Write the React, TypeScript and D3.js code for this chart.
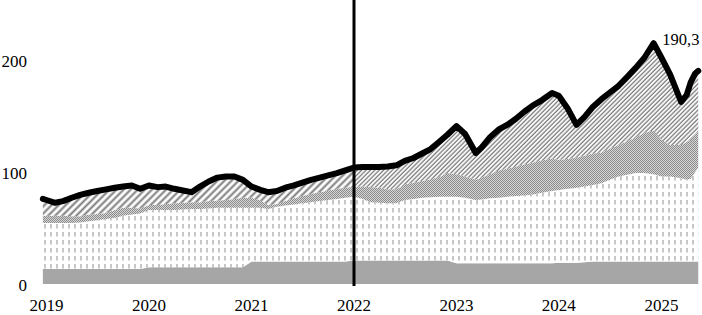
import React from "react";
import * as d3 from "d3";

const dates = [
  "2018-12-19","2019-01-01","2019-02-01","2019-03-01","2019-04-01","2019-05-01","2019-06-01","2019-07-01","2019-08-01","2019-09-01","2019-10-01","2019-11-01","2019-12-01",
  "2020-01-01","2020-02-01","2020-03-01","2020-04-01","2020-05-01","2020-06-01","2020-07-01","2020-08-01","2020-09-01","2020-10-01","2020-11-01","2020-12-01",
  "2021-01-01","2021-02-01","2021-03-01","2021-04-01","2021-05-01","2021-06-01","2021-07-01","2021-08-01","2021-09-01","2021-10-01","2021-11-01","2021-12-01",
  "2022-01-01","2022-02-01","2022-03-01","2022-04-01","2022-05-01","2022-06-01","2022-07-01","2022-08-01","2022-09-01","2022-10-01","2022-11-01","2022-12-01",
  "2023-01-01","2023-02-01","2023-03-11","2023-04-01","2023-05-01","2023-06-01","2023-07-01","2023-08-01","2023-09-01","2023-10-01","2023-11-01","2023-12-08",
  "2024-01-01","2024-02-01","2024-03-04","2024-04-01","2024-05-01","2024-06-01","2024-07-01","2024-08-01","2024-09-01","2024-10-01","2024-11-01","2024-12-04",
  "2025-01-01","2025-02-01","2025-03-12","2025-04-01","2025-04-15","2025-05-01","2025-05-12",
];

// bottom solid grey layer
const baseSeries = [
  13.5,13.5,13.5,13.5,13.5,13.5,13.5,13.5,13.5,13.5,13.5,13.5,13.5,
  15,15,15,15,15,15,15,15,15,15,15,15,
  20,20,20,20,20,20,20,20,20,20,20,20,
  21,21,21,21,21,21,21,21,21,21,21,21,
  18.5,18.5,18.5,18.5,18.5,18.5,18.5,18.5,18.5,18.5,18.5,18.5,
  19,19,19,19.5,20,20,20,20,20,20,20,20,
  20,20,20,20,20,20,20,
];
// dashed layer
const dottedSeries = [
  41,41,41,41,41,41.5,42.5,43.5,44.5,45.5,47.5,48.5,49.5,
  51,51,51,51,51.5,52,52,52.5,53,53,53,53,
  48,48,47,49,50,51,52,53,54,55,56,57,
  57,55,52,51.5,51,51,54,55,56,56.5,57,57,
  59.5,58.5,56.5,57,58,58.5,59.5,60,60.5,61.5,63,64.5,
  65,66,67,67.5,68.5,70,73,76,77.5,79,79,78,
  76,76,74.5,73,74,80,84,
];
// checkered layer
const checkSeries = [
  6.5,6.5,6.5,6.5,6,5.5,6,5.5,5.5,7,7,6,4.5,
  4.5,4.5,5.5,6,6,6,6,6.5,6.5,7,8,9,
  9,7,3.5,2.5,4,5.5,6.5,7.5,8,8.5,9,9,
  9,11,13.5,13.5,12.5,12.5,14,14.5,15,16,17.5,21,
  20,19,18,19.5,21.5,24.5,25,26.5,28,28.5,29,29,
  27,26.5,27,27.5,28,27.5,28,28,30,32,36,39,
  33,28,29.5,34,35,34,33.5,
];
// total (thick black line)
const totalSeries = [
  76,75,72.5,74,77,79.5,81.5,83,84.5,86,87,88,85,
  88,86.5,87,85,83.5,82,87,91.5,95,96,96,93,
  87,84,82,83,86,88,90.5,93,95,97,99,101.5,
  104,104.5,104.5,104.5,105,106,110,112.5,116.5,120.5,127,133.5,
  141,134,117,122,131,138,142,147.5,154,159.5,164,170.5,
  168,157,142,149,158,165,171,177,185,193,202,215,
  202,187,162.5,169,180,188,190.3,
];

const yearTicks = [2019, 2020, 2021, 2022, 2023, 2024, 2025];
const yTicks = [0, 100, 200];
const markerYear = 2022;
const lastLabel = "190,3";

const W = 702;
const H = 315;
const FONT = "'Liberation Serif', 'Times New Roman', serif";

export default function App() {
  const parse = d3.timeParse("%Y-%m-%d");
  const rows = dates.map((d, i) => ({
    date: parse(d) as Date,
    base: baseSeries[i],
    dotted: dottedSeries[i],
    check: checkSeries[i],
    hatch: totalSeries[i] - baseSeries[i] - dottedSeries[i] - checkSeries[i],
    total: totalSeries[i],
  }));

  const x = d3
    .scaleTime()
    .domain([new Date(2019, 0, 1), new Date(2025, 0, 1)])
    .range([46.5, 661.5]);
  const y = d3.scaleLinear().domain([0, 200]).range([284, 60]);

  const keys = ["base", "dotted", "check", "hatch"];
  const stack = d3.stack<any>().keys(keys)(rows);
  const area = d3
    .area<any>()
    .x((d) => x(d.data.date))
    .y0((d) => y(d[0]))
    .y1((d) => y(d[1]));
  const line = d3
    .line<any>()
    .x((d) => x(d.date))
    .y((d) => y(d.total));

  const xm = x(new Date(markerYear, 0, 1));
  const fills = ["#a6a6a6", "url(#dash)", "url(#check)", null];
  const last = rows[rows.length - 1];

  return (
    <svg
      width={W}
      height={H}
      style={{ position: "absolute", left: 0, top: 0, background: "#fff" }}
      fontFamily={FONT}
    >
      <defs>
        <pattern id="dash" width="6" height="8" patternUnits="userSpaceOnUse">
          <rect width="6" height="8" fill="#ffffff" />
          <line x1="3" y1="0" x2="3" y2="4.5" stroke="#9a9a9a" strokeWidth="1.1" />
        </pattern>
        <pattern id="check" width="2" height="2" patternUnits="userSpaceOnUse">
          <rect width="2" height="2" fill="#d6d6d6" />
          <rect width="1" height="1" fill="#8c8c8c" />
          <rect x="1" y="1" width="1" height="1" fill="#8c8c8c" />
        </pattern>
        <pattern id="hatchWide" width="5" height="5" patternUnits="userSpaceOnUse" patternTransform="rotate(45)">
          <rect width="5" height="5" fill="#ffffff" />
          <line x1="1.5" y1="0" x2="1.5" y2="5" stroke="#7a7a7a" strokeWidth="2" />
        </pattern>
        <pattern id="hatchNarrow" width="3.1" height="3.1" patternUnits="userSpaceOnUse" patternTransform="rotate(45)">
          <rect width="3.1" height="3.1" fill="#ffffff" />
          <line x1="1" y1="0" x2="1" y2="3.1" stroke="#7a7a7a" strokeWidth="1.3" />
        </pattern>
        <clipPath id="leftClip">
          <rect x={0} y={0} width={xm} height={H} />
        </clipPath>
        <clipPath id="rightClip">
          <rect x={xm} y={0} width={W - xm} height={H} />
        </clipPath>
      </defs>

      {stack.map((s, i) =>
        fills[i] ? (
          <path key={keys[i]} d={area(s) || ""} fill={fills[i] as string} />
        ) : (
          <g key={keys[i]}>
            <path d={area(s) || ""} fill="url(#hatchWide)" clipPath="url(#leftClip)" />
            <path d={area(s) || ""} fill="url(#hatchNarrow)" clipPath="url(#rightClip)" />
          </g>
        )
      )}

      <line x1={xm} x2={xm} y1={0} y2={286} stroke="#000" strokeWidth={3} />

      <path
        d={line(rows) || ""}
        fill="none"
        stroke="#000"
        strokeWidth={6}
        strokeLinejoin="round"
        strokeLinecap="round"
      />

      <text x={x(last.date) - 36} y={45} fontSize={16.5} fill="#000">
        {lastLabel}
      </text>

      {yTicks.map((v) => (
        <text key={v} x={27} y={y(v) + 7} fontSize={17} textAnchor="end" fill="#000">
          {v}
        </text>
      ))}
      {yearTicks.map((yr) => (
        <text
          key={yr}
          x={x(new Date(yr, 0, 1))}
          y={311}
          fontSize={17}
          textAnchor="middle"
          fill="#000"
        >
          {yr}
        </text>
      ))}
    </svg>
  );
}
